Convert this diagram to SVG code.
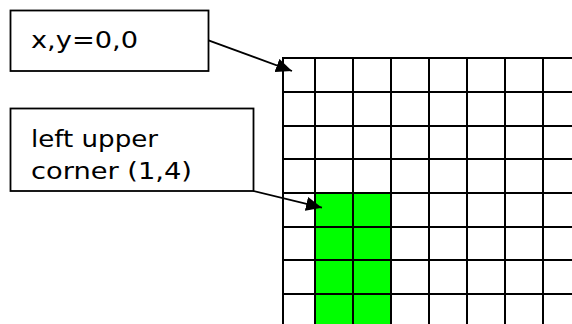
<svg xmlns="http://www.w3.org/2000/svg" width="572" height="324" viewBox="0 0 572 324">
  <style>
    .box { fill: #ffffff; stroke: #000000; stroke-width: 1.8; }
    .label { font-family: "DejaVu Sans", Verdana, "Liberation Sans", sans-serif; font-size: 23px; fill: #000000; }
    .grid line { stroke: #000000; stroke-width: 2; }
    .conn { stroke: #000000; stroke-width: 1.8; fill: none; marker-end: url(#arrow); }
  </style>
  <defs>
    <marker id="arrow" viewBox="0 0 16 14" refX="16" refY="7" markerWidth="16" markerHeight="14" markerUnits="userSpaceOnUse" orient="auto">
      <path d="M0,0 L16,7 L0,14 z" fill="#000000"/>
    </marker>
  </defs>
  <rect width="572" height="324" fill="#ffffff"/>

  <!-- highlighted cells: columns 1-2 from row 4 down -->
  <g id="highlight">
    <rect x="315" y="193" width="76" height="131" fill="#00ff00"/>
  </g>

  <!-- pixel grid -->
  <g id="grid" class="grid">
    <line x1="282" y1="58" x2="572" y2="58"/>
    <line x1="282" y1="92" x2="572" y2="92"/>
    <line x1="282" y1="126" x2="572" y2="126"/>
    <line x1="282" y1="159" x2="572" y2="159"/>
    <line x1="282" y1="193" x2="572" y2="193"/>
    <line x1="282" y1="227" x2="572" y2="227"/>
    <line x1="282" y1="260" x2="572" y2="260"/>
    <line x1="282" y1="294" x2="572" y2="294"/>
    <line x1="283" y1="57" x2="283" y2="324"/>
    <line x1="315" y1="57" x2="315" y2="324"/>
    <line x1="353" y1="57" x2="353" y2="324"/>
    <line x1="391" y1="57" x2="391" y2="324"/>
    <line x1="429" y1="57" x2="429" y2="324"/>
    <line x1="467" y1="57" x2="467" y2="324"/>
    <line x1="505" y1="57" x2="505" y2="324"/>
    <line x1="543" y1="57" x2="543" y2="324"/>
  </g>

  <g id="origin-label">
    <rect class="box" x="10.5" y="10.5" width="198" height="60.5"/>
    <text class="label" x="31" y="48" textLength="107" lengthAdjust="spacingAndGlyphs">x,y=0,0</text>
  </g>

  <g id="corner-label">
    <rect class="box" x="10.5" y="108.5" width="243" height="82.5"/>
    <text class="label" x="31" y="146.5" textLength="127" lengthAdjust="spacingAndGlyphs">left upper</text>
    <text class="label" x="31" y="179" textLength="161" lengthAdjust="spacingAndGlyphs">corner (1,4)</text>
  </g>

  <g id="connectors">
    <line class="conn" x1="208.5" y1="40.3" x2="292" y2="71"/>
    <line class="conn" x1="253.3" y1="191" x2="322" y2="207.7"/>
  </g>
</svg>
